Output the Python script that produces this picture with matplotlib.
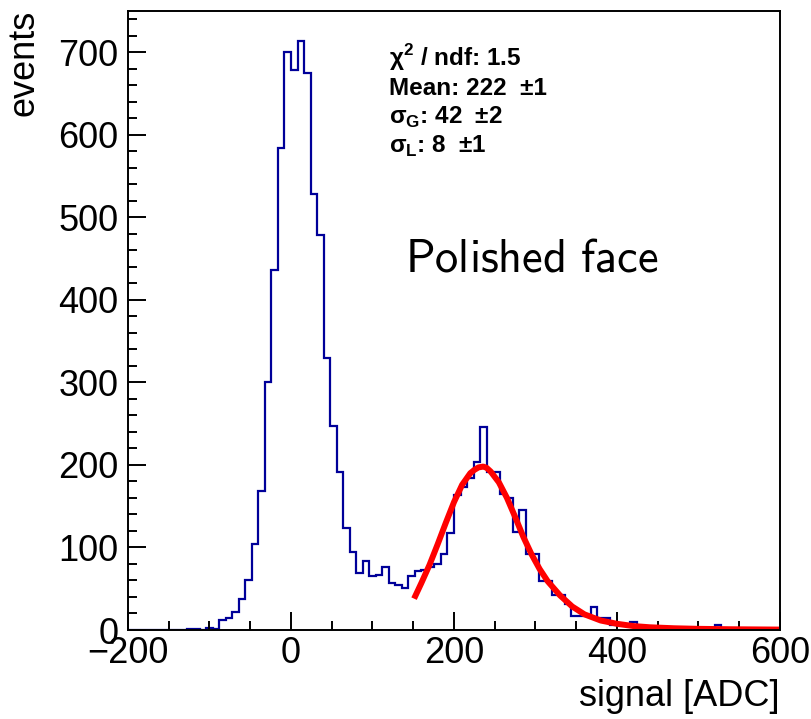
import matplotlib
matplotlib.use("Agg")
import matplotlib.pyplot as plt
import numpy as np

plt.rcParams["font.family"] = ["Liberation Sans", "DejaVu Sans"]
plt.rcParams["mathtext.fontset"] = "custom"
plt.rcParams["mathtext.rm"] = "Liberation Sans"
plt.rcParams["mathtext.bf"] = "Liberation Sans:bold"

# histogram: 100 bins of 8 ADC from -200 to 600
bin_lo, bin_hi, n_bins = -200, 600, 100
counts = [
    0, 0, 0, 0, 0, 0, 0, 0, 0, 1,            # -200 .. -120
    1, 0, 2, 1, 12, 14, 22, 38, 61, 104,     # -120 .. -40
    169, 301, 436, 584, 700, 678, 714, 675, 528, 479,   # -40 .. 40
    329, 247, 191, 124, 94, 69, 83, 66, 67, 76,         # 40 .. 120
    57, 54, 51, 66, 71, 73, 76, 80, 92, 118,            # 120 .. 200
    163, 173, 184, 203, 246, 192, 192, 165, 160, 119,   # 200 .. 280
    145, 92, 92, 59, 59, 43, 43, 32, 17, 17,            # 280 .. 360
    17, 28, 14, 14, 6, 6, 6, 10, 4, 4,                  # 360 .. 440
    1, 1, 0, 1, 0, 1, 0, 2, 2, 2,                       # 440 .. 520
    6, 1, 0, 1, 0, 0, 1, 0, 0, 0,                       # 520 .. 600
]

# fitted curve
fit_x = [151, 160, 170, 180, 190, 200, 210, 220, 225, 230, 236, 240, 245, 255, 265,
         275, 285, 295, 305, 315, 330, 345, 360, 380, 400, 420, 440, 470, 500, 540, 600]
fit_y = [38, 57, 79, 104, 130, 155, 176, 190, 194, 197, 198, 196.5, 192, 179, 160,
         137, 113, 92, 74, 59, 42, 28.5, 19, 11.5, 7.5, 4.8, 3.3, 2.1, 1.4, 0.9, 0.5]

stats = ["χ$^{\\mathbf{2}}$ / ndf: 1.5",
         "Mean: 222  ±1",
         "σ$_{\\mathbf{G}}$: 42  ±2",
         "σ$_{\\mathbf{L}}$: 8  ±1"]

edges = np.linspace(bin_lo, bin_hi, n_bins + 1)

fig = plt.figure(figsize=(8.12, 7.19), dpi=100)
ax = fig.add_axes([128 / 812, 1 - 630 / 719, 652 / 812, 619 / 719])

ax.stairs(counts, edges, color="#000099", lw=1.6)
ax.plot(fit_x, fit_y, color="#ff0000", lw=4.3, solid_capstyle="butt", solid_joinstyle="round")

ax.set_xlim(-200, 600)
ax.set_ylim(0, 750)
ax.set_xticks([-200, 0, 200, 400, 600])
ax.set_xticks(np.arange(-200, 601, 50), minor=True)
ax.set_yticks(np.arange(0, 701, 100))
ax.set_yticks(np.arange(0, 741, 20), minor=True)
ax.tick_params(which="both", direction="in", top=False, right=False, width=1.4, labelsize=26)
ax.tick_params(which="major", length=13)
ax.tick_params(which="minor", length=6.5)
ax.tick_params(axis="x", pad=4)
ax.tick_params(axis="y", pad=7)
for s in ax.spines.values():
    s.set_linewidth(1.4)

fig.text(780 / 812, 1 - 706 / 719, "signal [ADC]", fontsize=26, ha="right", va="baseline")
fig.text(24 / 812, 1 - 10 / 719, "events", fontsize=26, rotation=90, ha="center", va="top")

for i, s in enumerate(stats):
    fig.text(389 / 812, 1 - (66 + 29 * i) / 719, s, fontsize=17.5, fontweight="bold",
             ha="left", va="baseline")

fig.text(405 / 812, 1 - 272 / 719, r"$\mathsf{Polished\ face}$", fontsize=33.5,
         math_fontfamily="cm", ha="left", va="baseline")

fig.savefig("out.png", dpi=100)
